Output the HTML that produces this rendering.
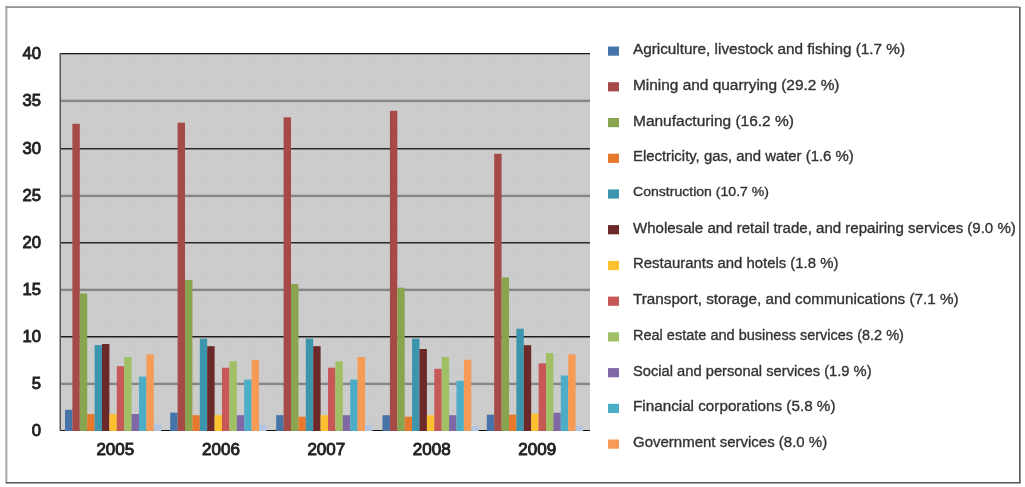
<!DOCTYPE html><html><head><meta charset="utf-8"><style>html,body{margin:0;padding:0;background:#fff;width:1025px;height:487px;overflow:hidden}svg{display:block;will-change:transform}text{font-family:"Liberation Sans",sans-serif}</style></head><body>
<svg width="1025" height="487" viewBox="0 0 1025 487">
<defs><pattern id="dots" width="3" height="3" patternUnits="userSpaceOnUse"><rect width="3" height="3" fill="#cbcbcb"/><rect x="1" y="1" width="1" height="1" fill="#d1d1d1"/></pattern></defs>
<rect x="0" y="0" width="1025" height="487" fill="#fff"/>
<rect x="5.2" y="6.2" width="2.2" height="477" fill="#b0b0b0"/>
<rect x="5.5" y="6.2" width="1014" height="1.8" fill="#959595"/>
<rect x="1019" y="7" width="1.6" height="476" fill="#585858"/>
<rect x="6" y="482" width="1014.6" height="1.5" fill="#555"/>
<rect x="60" y="53" width="530" height="378" fill="url(#dots)"/>
<rect x="60" y="53" width="530" height="1.3" fill="#1e1e1e"/>
<rect x="60" y="99.7" width="530" height="2.4" fill="#868686"/>
<rect x="60" y="148" width="530" height="1.5" fill="#2a2a2a"/>
<rect x="60" y="194.7" width="530" height="2.4" fill="#868686"/>
<rect x="60" y="242" width="530" height="1.5" fill="#2a2a2a"/>
<rect x="60" y="288.7" width="530" height="2.4" fill="#868686"/>
<rect x="60" y="336" width="530" height="1.5" fill="#1e1e1e"/>
<rect x="60" y="382.7" width="530" height="2.4" fill="#868686"/>
<rect x="60" y="430" width="530" height="1" fill="#111"/>
<rect x="59.5" y="53" width="1.5" height="378" fill="#555"/>
<rect x="65.00" y="409.8" width="7.4" height="21.2" fill="#4673a8"/>
<rect x="72.40" y="123.8" width="7.4" height="307.2" fill="#a64a48"/>
<rect x="79.80" y="293.4" width="7.4" height="137.6" fill="#89a44f"/>
<rect x="87.20" y="414.1" width="7.4" height="16.9" fill="#e7792f"/>
<rect x="94.60" y="345.1" width="7.4" height="85.9" fill="#3c94ad"/>
<rect x="102.00" y="344.0" width="7.4" height="87.0" fill="#6b2929"/>
<rect x="109.40" y="414.1" width="7.4" height="16.9" fill="#fdc12f"/>
<rect x="116.80" y="366.2" width="7.4" height="64.8" fill="#c65958"/>
<rect x="124.20" y="357.0" width="7.4" height="74.0" fill="#a1c065"/>
<rect x="131.60" y="414.0" width="7.4" height="17.0" fill="#8068a7"/>
<rect x="139.00" y="376.6" width="7.4" height="54.4" fill="#4cadc7"/>
<rect x="146.40" y="354.4" width="7.4" height="76.6" fill="#f59b56"/>
<rect x="153.80" y="424.4" width="7.4" height="6.6" fill="#b3c6e1"/>
<rect x="170.20" y="412.6" width="7.4" height="18.4" fill="#4673a8"/>
<rect x="177.60" y="122.7" width="7.4" height="308.3" fill="#a64a48"/>
<rect x="185.00" y="280.0" width="7.4" height="151.0" fill="#89a44f"/>
<rect x="192.40" y="415.2" width="7.4" height="15.8" fill="#e7792f"/>
<rect x="199.80" y="338.6" width="7.4" height="92.4" fill="#3c94ad"/>
<rect x="207.20" y="346.2" width="7.4" height="84.8" fill="#6b2929"/>
<rect x="214.60" y="415.2" width="7.4" height="15.8" fill="#fdc12f"/>
<rect x="222.00" y="367.7" width="7.4" height="63.3" fill="#c65958"/>
<rect x="229.40" y="361.3" width="7.4" height="69.7" fill="#a1c065"/>
<rect x="236.80" y="415.2" width="7.4" height="15.8" fill="#8068a7"/>
<rect x="244.20" y="379.6" width="7.4" height="51.4" fill="#4cadc7"/>
<rect x="251.60" y="359.8" width="7.4" height="71.2" fill="#f59b56"/>
<rect x="259.00" y="424.9" width="7.4" height="6.1" fill="#b3c6e1"/>
<rect x="276.20" y="415.2" width="7.4" height="15.8" fill="#4673a8"/>
<rect x="283.60" y="117.3" width="7.4" height="313.7" fill="#a64a48"/>
<rect x="291.00" y="284.1" width="7.4" height="146.9" fill="#89a44f"/>
<rect x="298.40" y="416.7" width="7.4" height="14.3" fill="#e7792f"/>
<rect x="305.80" y="338.6" width="7.4" height="92.4" fill="#3c94ad"/>
<rect x="313.20" y="346.2" width="7.4" height="84.8" fill="#6b2929"/>
<rect x="320.60" y="415.2" width="7.4" height="15.8" fill="#fdc12f"/>
<rect x="328.00" y="367.7" width="7.4" height="63.3" fill="#c65958"/>
<rect x="335.40" y="361.3" width="7.4" height="69.7" fill="#a1c065"/>
<rect x="342.80" y="415.2" width="7.4" height="15.8" fill="#8068a7"/>
<rect x="350.20" y="379.6" width="7.4" height="51.4" fill="#4cadc7"/>
<rect x="357.60" y="357.0" width="7.4" height="74.0" fill="#f59b56"/>
<rect x="365.00" y="424.9" width="7.4" height="6.1" fill="#b3c6e1"/>
<rect x="382.50" y="415.2" width="7.4" height="15.8" fill="#4673a8"/>
<rect x="389.90" y="110.8" width="7.4" height="320.2" fill="#a64a48"/>
<rect x="397.30" y="287.7" width="7.4" height="143.3" fill="#89a44f"/>
<rect x="404.70" y="416.7" width="7.4" height="14.3" fill="#e7792f"/>
<rect x="412.10" y="338.6" width="7.4" height="92.4" fill="#3c94ad"/>
<rect x="419.50" y="349.0" width="7.4" height="82.0" fill="#6b2929"/>
<rect x="426.90" y="415.2" width="7.4" height="15.8" fill="#fdc12f"/>
<rect x="434.30" y="368.8" width="7.4" height="62.2" fill="#c65958"/>
<rect x="441.70" y="357.0" width="7.4" height="74.0" fill="#a1c065"/>
<rect x="449.10" y="415.2" width="7.4" height="15.8" fill="#8068a7"/>
<rect x="456.50" y="380.9" width="7.4" height="50.1" fill="#4cadc7"/>
<rect x="463.90" y="359.8" width="7.4" height="71.2" fill="#f59b56"/>
<rect x="471.30" y="426.0" width="7.4" height="5.0" fill="#b3c6e1"/>
<rect x="486.80" y="414.7" width="7.4" height="16.3" fill="#4673a8"/>
<rect x="494.20" y="153.8" width="7.4" height="277.2" fill="#a64a48"/>
<rect x="501.60" y="277.4" width="7.4" height="153.6" fill="#89a44f"/>
<rect x="509.00" y="414.7" width="7.4" height="16.3" fill="#e7792f"/>
<rect x="516.40" y="328.7" width="7.4" height="102.3" fill="#3c94ad"/>
<rect x="523.80" y="345.2" width="7.4" height="85.8" fill="#6b2929"/>
<rect x="531.20" y="413.7" width="7.4" height="17.3" fill="#fdc12f"/>
<rect x="538.60" y="363.4" width="7.4" height="67.6" fill="#c65958"/>
<rect x="546.00" y="353.1" width="7.4" height="77.9" fill="#a1c065"/>
<rect x="553.40" y="412.7" width="7.4" height="18.3" fill="#8068a7"/>
<rect x="560.80" y="375.5" width="7.4" height="55.5" fill="#4cadc7"/>
<rect x="568.20" y="354.4" width="7.4" height="76.6" fill="#f59b56"/>
<rect x="575.60" y="426.0" width="7.4" height="5.0" fill="#b3c6e1"/>
<text transform="translate(41,59.2) scale(0.98,1)" text-anchor="end" font-size="17" fill="#222" stroke="#222" stroke-width="0.9">40</text>
<text transform="translate(41,106.2) scale(0.98,1)" text-anchor="end" font-size="17" fill="#222" stroke="#222" stroke-width="0.9">35</text>
<text transform="translate(41,154.2) scale(0.98,1)" text-anchor="end" font-size="17" fill="#222" stroke="#222" stroke-width="0.9">30</text>
<text transform="translate(41,201.2) scale(0.98,1)" text-anchor="end" font-size="17" fill="#222" stroke="#222" stroke-width="0.9">25</text>
<text transform="translate(41,248.2) scale(0.98,1)" text-anchor="end" font-size="17" fill="#222" stroke="#222" stroke-width="0.9">20</text>
<text transform="translate(41,295.2) scale(0.98,1)" text-anchor="end" font-size="17" fill="#222" stroke="#222" stroke-width="0.9">15</text>
<text transform="translate(41,342.2) scale(0.98,1)" text-anchor="end" font-size="17" fill="#222" stroke="#222" stroke-width="0.9">10</text>
<text transform="translate(41,389.2) scale(0.98,1)" text-anchor="end" font-size="17" fill="#222" stroke="#222" stroke-width="0.9">5</text>
<text transform="translate(41,436.2) scale(0.98,1)" text-anchor="end" font-size="17" fill="#222" stroke="#222" stroke-width="0.9">0</text>
<text transform="translate(115.3,455.2) scale(1,1)" text-anchor="middle" font-size="17" fill="#222" stroke="#222" stroke-width="0.9">2005</text>
<text transform="translate(221,455.2) scale(1,1)" text-anchor="middle" font-size="17" fill="#222" stroke="#222" stroke-width="0.9">2006</text>
<text transform="translate(326.3,455.2) scale(1,1)" text-anchor="middle" font-size="17" fill="#222" stroke="#222" stroke-width="0.9">2007</text>
<text transform="translate(431.7,455.2) scale(1,1)" text-anchor="middle" font-size="17" fill="#222" stroke="#222" stroke-width="0.9">2008</text>
<text transform="translate(537.2,455.2) scale(1,1)" text-anchor="middle" font-size="17" fill="#222" stroke="#222" stroke-width="0.9">2009</text>
<rect x="608" y="46.5" width="11" height="9.2" fill="#4673a8"/>
<text x="633" y="54.0" font-size="15.3" fill="#333" stroke="#333" stroke-width="0.35" textLength="272.0" lengthAdjust="spacingAndGlyphs">Agriculture, livestock and fishing (1.7 %)</text>
<rect x="608" y="82.2" width="11" height="9.2" fill="#a64a48"/>
<text x="633" y="89.7" font-size="15.3" fill="#333" stroke="#333" stroke-width="0.35" textLength="206.5" lengthAdjust="spacingAndGlyphs">Mining and quarrying (29.2 %)</text>
<rect x="608" y="118.0" width="11" height="9.2" fill="#89a44f"/>
<text x="633" y="125.5" font-size="15.3" fill="#333" stroke="#333" stroke-width="0.35" textLength="160.9" lengthAdjust="spacingAndGlyphs">Manufacturing (16.2 %)</text>
<rect x="608" y="153.7" width="11" height="9.2" fill="#e7792f"/>
<text x="633" y="161.2" font-size="15.3" fill="#333" stroke="#333" stroke-width="0.35" textLength="220.7" lengthAdjust="spacingAndGlyphs">Electricity, gas, and water (1.6 %)</text>
<rect x="608" y="189.4" width="11" height="9.2" fill="#3c94ad"/>
<text x="633" y="196.1" font-size="13.5" fill="#333" stroke="#333" stroke-width="0.35" textLength="136.0" lengthAdjust="spacingAndGlyphs">Construction (10.7 %)</text>
<rect x="608" y="225.1" width="11" height="9.2" fill="#6b2929"/>
<text x="633" y="232.6" font-size="15.3" fill="#333" stroke="#333" stroke-width="0.35" textLength="382.8" lengthAdjust="spacingAndGlyphs">Wholesale and retail trade, and repairing services (9.0 %)</text>
<rect x="608" y="260.9" width="11" height="9.2" fill="#fdc12f"/>
<text x="633" y="268.4" font-size="15.3" fill="#333" stroke="#333" stroke-width="0.35" textLength="205.4" lengthAdjust="spacingAndGlyphs">Restaurants and hotels (1.8 %)</text>
<rect x="608" y="296.6" width="11" height="9.2" fill="#c65958"/>
<text x="633" y="304.1" font-size="15.3" fill="#333" stroke="#333" stroke-width="0.35" textLength="325.6" lengthAdjust="spacingAndGlyphs">Transport, storage, and communications (7.1 %)</text>
<rect x="608" y="332.3" width="11" height="9.2" fill="#a1c065"/>
<text x="633" y="339.8" font-size="15.3" fill="#333" stroke="#333" stroke-width="0.35" textLength="270.9" lengthAdjust="spacingAndGlyphs">Real estate and business services (8.2 %)</text>
<rect x="608" y="368.1" width="11" height="9.2" fill="#8068a7"/>
<text x="633" y="375.6" font-size="15.3" fill="#333" stroke="#333" stroke-width="0.35" textLength="238.6" lengthAdjust="spacingAndGlyphs">Social and personal services (1.9 %)</text>
<rect x="608" y="403.8" width="11" height="9.2" fill="#4cadc7"/>
<text x="633" y="411.3" font-size="15.3" fill="#333" stroke="#333" stroke-width="0.35" textLength="202.5" lengthAdjust="spacingAndGlyphs">Financial corporations (5.8 %)</text>
<rect x="608" y="439.5" width="11" height="9.2" fill="#f59b56"/>
<text x="633" y="447.0" font-size="15.3" fill="#333" stroke="#333" stroke-width="0.35" textLength="194.2" lengthAdjust="spacingAndGlyphs">Government services (8.0 %)</text>
</svg></body></html>
